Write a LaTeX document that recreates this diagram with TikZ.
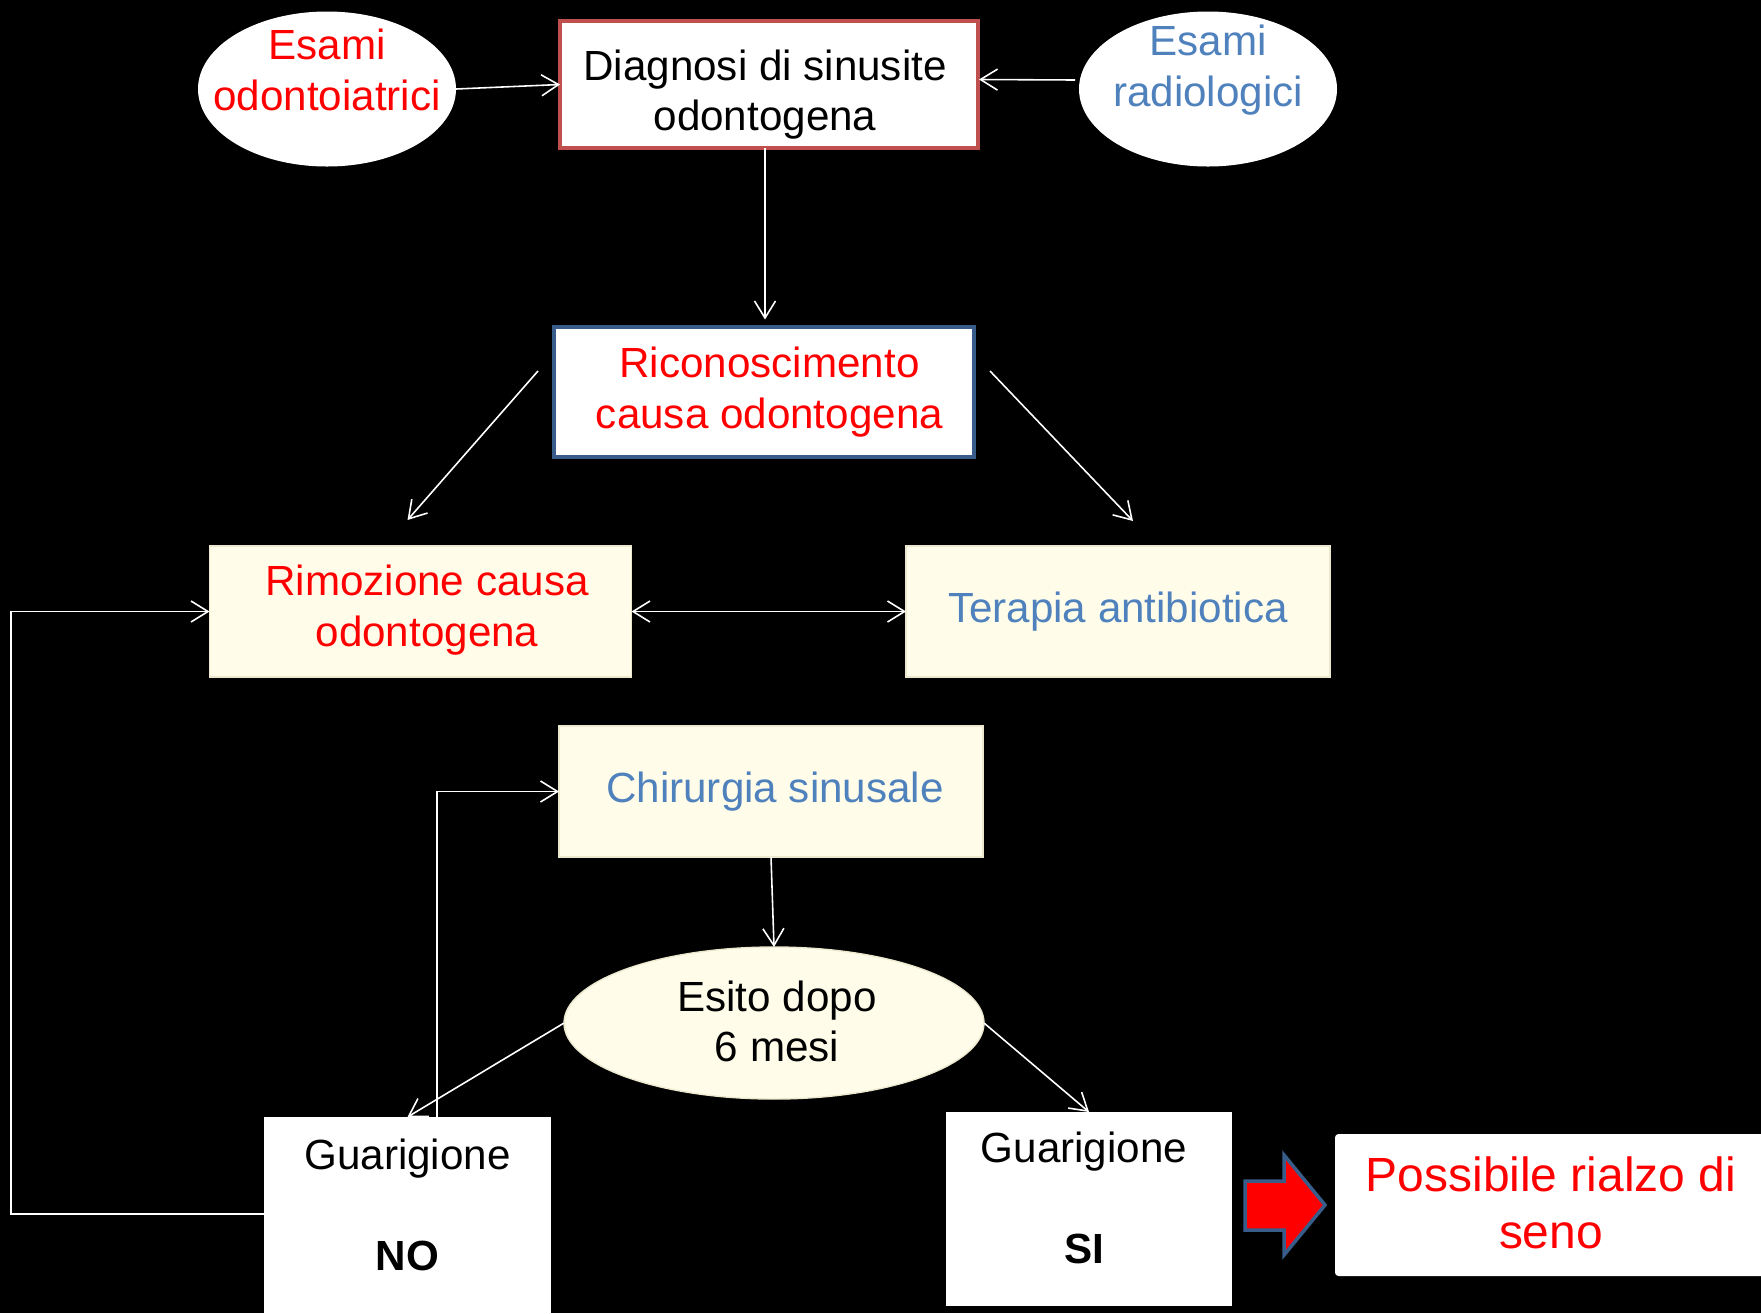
\documentclass[tikz,border=0pt]{standalone}
\usepackage{fontspec}
\setmainfont{Liberation Sans}
\usetikzlibrary{arrows.meta,shapes.geometric,calc}
\definecolor{redtxt}{RGB}{255,0,0}
\definecolor{bluetxt}{RGB}{79,129,189}
\definecolor{redborder}{RGB}{192,80,77}
\definecolor{blueborder}{RGB}{56,93,138}
\definecolor{cream}{RGB}{255,253,234}
\definecolor{creamedge}{RGB}{235,232,205}
\begin{document}
\begin{tikzpicture}[
  font=\fontsize{24}{28.7}\selectfont,
  every node/.style={align=center, inner sep=0pt, outer sep=0pt},
  oval/.style={ellipse, fill=white, minimum width=5.16cm, minimum height=3.10cm},
  framebox/.style={rectangle, fill=white, line width=2.2pt},
  creambox/.style={rectangle, fill=cream, draw=creamedge, line width=0.8pt, minimum width=8.44cm, minimum height=2.62cm},
  plainbox/.style={rectangle, fill=white},
  conn/.style={draw=white, line width=0.9pt, -{Straight Barb[length=0.34cm,width=0.42cm]}},
  dconn/.style={draw=white, line width=0.9pt, {Straight Barb[length=0.34cm,width=0.42cm]}-{Straight Barb[length=0.34cm,width=0.42cm]}},
]
\fill[black] (0,0) rectangle (35.22,-26.26);
\useasboundingbox (0,0) rectangle (35.22,-26.26);

% top row
\node[oval] (eodo) at (6.54,-1.78) {};
\node[text=redtxt] (eodot) at (6.54,-1.40) {Esami\\odontoiatrici};
\node[framebox, draw=redborder, minimum width=8.36cm, minimum height=2.54cm] (diag) at (15.38,-1.69) {};
\node (diagt) at (15.30,-1.89) {Diagnosi di sinusite\\odontogena};
\node[oval] (erad) at (24.16,-1.78) {};
\node[text=bluetxt] (eradt) at (24.16,-1.40) {Esami\\radiologici};

% second
\node[framebox, draw=blueborder, minimum width=8.40cm, minimum height=2.60cm] (ricon) at (15.28,-7.84) {};
\node[text=redtxt] (ricont) at (15.39,-7.84) {Riconoscimento\\causa odontogena};

% third row
\node[creambox] (rim) at (8.41,-12.23) {};
\node[text=redtxt] (rimt) at (8.54,-12.20) {Rimozione causa\\odontogena};
\node[creambox, text=bluetxt, minimum width=8.48cm] (ter) at (22.36,-12.23) {Terapia antibiotica};

% chirurgia
\node[creambox, text=bluetxt, minimum width=8.48cm] (chir) at (15.42,-15.83) {};
\node[text=bluetxt] (chirt) at (15.50,-15.83) {Chirurgia sinusale};

% esito
\node[ellipse, fill=cream, draw=creamedge, line width=0.8pt, minimum width=8.40cm, minimum height=3.04cm] (esito) at (15.48,-20.46) {};
\node (esitot) at (15.54,-20.43) {Esito dopo\\6 mesi};

% guarigione boxes
\node[plainbox, minimum width=5.74cm, minimum height=4.60cm, anchor=north] (gno) at (8.15,-22.34) {};
\node (gnot) at (8.15,-24.10) {Guarigione\\ \\ \textbf{NO}};
\node[plainbox, minimum width=5.72cm, minimum height=3.88cm] (gsi) at (21.78,-24.18) {};
\node (gsit) at (21.68,-23.96) {Guarigione\\ \\ \textbf{SI}};

% possibile
\node[plainbox, rounded corners=2pt, minimum width=8.60cm, minimum height=2.84cm] (poss) at (31.0,-24.10) {};
\node[text=redtxt, font=\fontsize{27.3}{32.7}\selectfont] (posst) at (31.02,-24.06) {Possibile rialzo di\\seno};

% big red arrow
\draw[fill=red, draw=blueborder, line width=2pt, line join=miter]
  (24.90,-23.62) -- (25.68,-23.62) -- (25.68,-23.10) -- (26.50,-24.10)
  -- (25.68,-25.10) -- (25.68,-24.60) -- (24.90,-24.60) -- cycle;

% connectors
\coordinate (dtop) at ($(diag.south)+(-0.08,0)$);
\draw[conn] (eodo.east) -- (diag.west);
\draw[conn] ($(erad.west)+(-0.08,0.18)$) -- ($(diag.east)+(0.02,0.10)$);
\draw[conn, shorten >=0.15cm] (dtop) -- (dtop |- ricon.north);
\draw[conn] ($(ricon.west)+(-0.32,0.42)$) -- ($(rim.north)+(-0.26,0.52)$);
\draw[conn] ($(ricon.east)+(0.32,0.42)$) -- ($(ter.north)+(0.30,0.50)$);
\draw[dconn] (rim.east) -- (ter.west);
\draw[conn] (chir.south) -- (esito.north);
\draw[conn] (esito.west) -- (gno.north);
\draw[conn] (esito.east) -- (gsi.north);
\draw[conn] ($(gno.north)+(0.59,0)$) |- (chir.west);
\draw[conn] ($(gno.north west)+(0,-1.94)$) -- ++(-5.06,0) |- (rim.west);
\end{tikzpicture}
\end{document}
